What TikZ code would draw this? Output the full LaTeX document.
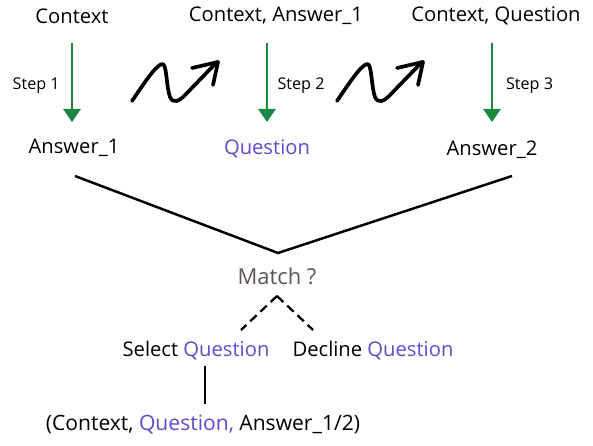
\documentclass[tikz,border=0pt]{standalone}
\usepackage{fontspec}
\setmainfont{Open Sans}
\usetikzlibrary{arrows.meta}
\definecolor{qpurple}{RGB}{100,72,206}
\definecolor{stepgreen}{RGB}{28,136,66}
\definecolor{matchgray}{RGB}{94,84,84}

\begin{document}
\begin{tikzpicture}[x = 0.02cm, y = -0.02cm,
        txt/.style = {font = \fontsize{11.5}{13}\selectfont, inner sep = 1pt},
        steplabel/.style = {font = \fontsize{9.2}{11}\selectfont, black},
        steparrow/.style = {stepgreen, line width = 1.3pt, -{Triangle[width = 10pt, length = 7.5pt]}},
        squiggle/.style = {line width = 2.1pt, line cap = round, line join = round}]
        \useasboundingbox (0,0) rectangle (593,446);
        % inputs of the three steps
        \node[txt] (ctx) at (72,16) {Context};
        \node[txt] (ctxans) at (276,16) {Context, Answer\_1};
        \node[txt] (ctxq) at (496,16) {Context, Question};
        % outputs of the three steps
        \node[txt] (ans1) at (74,148) {Answer\_1};
        \node[txt, text = qpurple] (quest) at (267,149) {Question};
        \node[txt] (ans2) at (492,150) {Answer\_2};
        % steps
        \coordinate (s1a) at (72,43);
        \coordinate (s1b) at (72,122);
        \draw[steparrow] (s1a) -- (s1b) node[midway, left = 3pt, yshift = -2pt, steplabel] {Step 1};
        \coordinate (s2a) at (267,43);
        \coordinate (s2b) at (267,122);
        \draw[steparrow] (s2a) -- (s2b) node[midway, right = 2pt, yshift = -2pt, steplabel] {Step 2};
        \coordinate (s3a) at (492,43);
        \coordinate (s3b) at (492,122);
        \draw[steparrow] (s3a) -- (s3b) node[midway, right = 4pt, yshift = -2pt, steplabel] {Step 3};
        % hand drawn arrows
        \foreach \dx in {0,205} {
            \begin{scope}[shift = {(\dx,0)}]
                \draw[squiggle] (132,101) .. controls (143,85) and (155,66) .. (162,64)
                    .. controls (167,63) and (166,86) .. (170,97)
                    .. controls (173,104) and (179,102) .. (187,93) -- (217,62);
                \draw[squiggle] (192,68) -- (218,62) -- (213,85);
            \end{scope}
        }
        % comparison
        \coordinate (vl) at (75,176);
        \coordinate (vtip) at (278,253);
        \coordinate (vr) at (512,176);
        \draw[line width = 1.4pt] (vl) -- (vtip) -- (vr);
        \node[txt, font = \fontsize{12.5}{14}\selectfont, text = matchgray] (match) at (277,276) {Match ?};
        \coordinate (dtop) at (277,296);
        \coordinate (dl) at (241,330);
        \coordinate (dr) at (313,330);
        \draw[line width = 1.3pt, dash pattern = on 5pt off 3pt] (dtop) -- (dl);
        \draw[line width = 1.3pt, dash pattern = on 5pt off 3pt] (dtop) -- (dr);
        \node[txt] (sel) at (196,351) {Select \textcolor{qpurple}{Question}};
        \node[txt] (dec) at (373,351) {Decline \textcolor{qpurple}{Question}};
        \node[txt, font = \fontsize{12}{14}\selectfont] (out) at (203,425) {(Context, \textcolor{qpurple}{Question,} Answer\_1/2)};
        \coordinate (sa) at (205,366);
        \coordinate (sb) at (205,404);
        \draw[line width = 1.3pt] (sa) -- (sb);
    \end{tikzpicture}
\end{document}
